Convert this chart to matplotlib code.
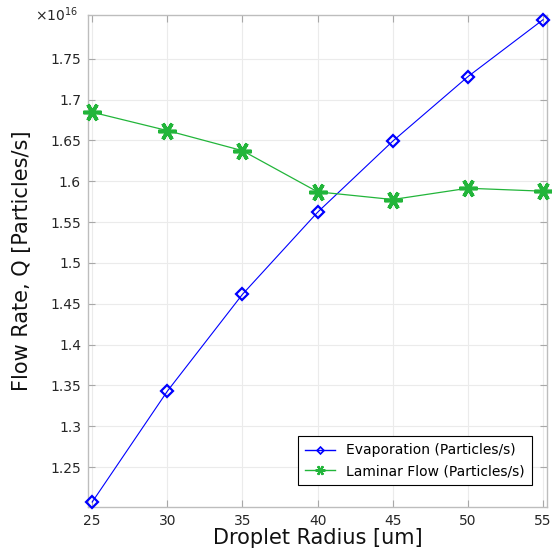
import matplotlib
matplotlib.use("Agg")
import matplotlib.pyplot as plt
from matplotlib.lines import Line2D
from matplotlib.ticker import FuncFormatter, MultipleLocator, FixedLocator

# Droplet radius [um]
radius = [25, 30, 35, 40, 45, 50, 55]
# Flow rates in units of 1e16 particles/s
evaporation = [1.2072, 1.3429, 1.4615, 1.5620, 1.6490, 1.7280, 1.7977]
laminar = [1.6845, 1.6620, 1.6374, 1.5870, 1.5776, 1.5914, 1.5878]
y_ticks = [1.25, 1.3, 1.35, 1.4, 1.45, 1.5, 1.55, 1.6, 1.65, 1.7, 1.75]

fig = plt.figure(figsize=(5.52, 5.48), dpi=100)
ax = fig.add_axes([0.1594, 0.0748, 0.8316, 0.8978])

blue = "#0000ff"
green = "#22b53a"
star = (6, 2, 90)

ax.plot(radius, evaporation, color=blue, lw=0.8, marker="D", markersize=6.5,
        markerfacecolor="none", markeredgecolor=blue, markeredgewidth=1.6,
        zorder=3, clip_on=False)
ax.plot(radius, laminar, color=green, lw=0.9, marker=star, markersize=13,
        markeredgecolor=green, markeredgewidth=2.6, zorder=3, clip_on=False)

ax.set_xlim(24.72, 55.27)
ax.set_ylim(1.2011, 1.8035)
ax.xaxis.set_major_locator(MultipleLocator(5))
ax.yaxis.set_major_locator(FixedLocator(y_ticks))
ax.yaxis.set_major_formatter(FuncFormatter(lambda v, p: "%g" % round(v, 4)))

ax.grid(True, color="#ebebeb", lw=0.8)
ax.set_axisbelow(True)
for s in ax.spines.values():
    s.set_color("#bdbdbd")
    s.set_linewidth(1.0)
ax.tick_params(direction="in", length=5, width=0.8, color="#a8a8a8",
               labelcolor="#262626", labelsize=10, top=True, right=True, pad=5)

ax.set_xlabel("Droplet Radius [um]", fontsize=15, color="#111111", labelpad=0)
ax.set_ylabel("Flow Rate, Q [Particles/s]", fontsize=15, color="#111111", labelpad=13)

ax.text(-0.022, 1.0, r"$\times10^{16}$", transform=ax.transAxes, ha="right",
        va="center", fontsize=10, color="#262626")

handles = [
    Line2D([], [], color=blue, lw=1.0, marker="D", markersize=3.5,
           markerfacecolor="none", markeredgecolor=blue, markeredgewidth=1.2),
    Line2D([], [], color=green, lw=1.0, marker=star, markersize=7,
           markeredgecolor=green, markeredgewidth=1.6),
]
labels = ["Evaporation (Particles/s)", "Laminar Flow (Particles/s)"]
leg = ax.legend(handles, labels, loc="lower right", bbox_to_anchor=(0.9825, 0.03),
                fontsize=10, fancybox=False, framealpha=1, edgecolor="black",
                handlelength=2.2, borderpad=0.5, labelspacing=0.5)
leg.get_frame().set_linewidth(0.8)

fig.savefig("out.png", dpi=100)
